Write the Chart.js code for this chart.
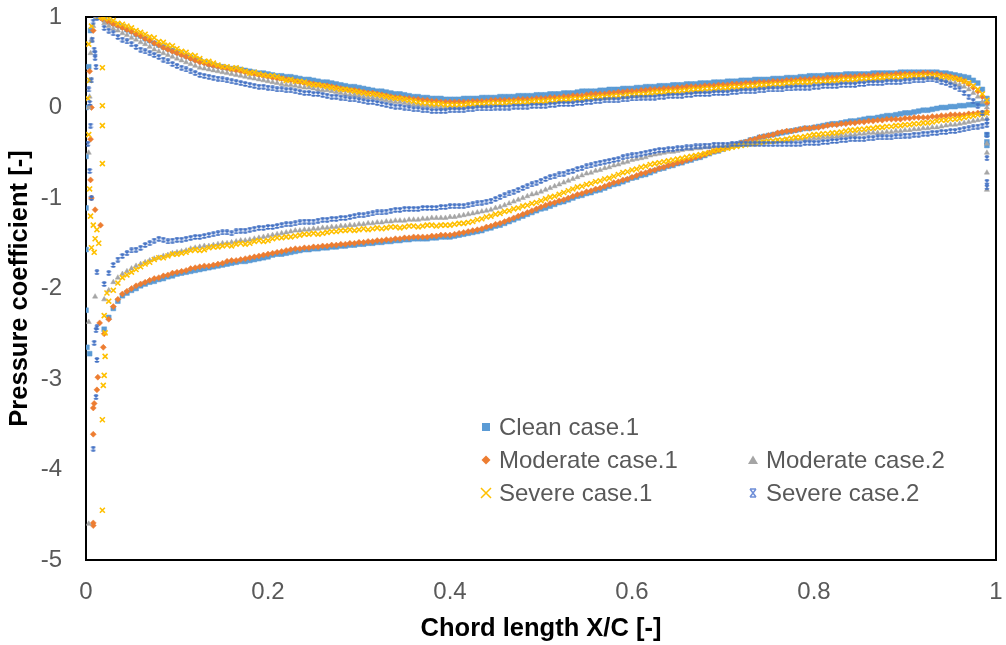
<!DOCTYPE html>
<html>
<head>
<meta charset="utf-8">
<script src="https://cdn.jsdelivr.net/npm/chart.js@4.4.0/dist/chart.umd.min.js"></script>
<style>
  html, body { margin: 0; padding: 0; background: #fff; }
  #wrap { width: 1006px; height: 645px; }
</style>
</head>
<body>
<div id="wrap"><canvas id="cpChart" width="1006" height="645"></canvas></div>
<script>
// Chordwise stations shared by both surfaces (x/c)
const xGrid = [
  0.02, 0.025, 0.03, 0.035, 0.04, 0.045, 0.05, 0.055, 0.06, 0.065,
  0.07, 0.075, 0.08, 0.085, 0.09, 0.095, 0.10, 0.105, 0.11, 0.115,
  0.12, 0.125, 0.13, 0.135, 0.14, 0.145, 0.15, 0.155, 0.16, 0.165,
  0.17, 0.175, 0.18, 0.185, 0.19, 0.195, 0.20, 0.205, 0.21, 0.215,
  0.22, 0.225, 0.23, 0.235, 0.24, 0.245, 0.25, 0.255, 0.26, 0.265,
  0.27, 0.275, 0.28, 0.285, 0.29, 0.295, 0.30, 0.305, 0.31, 0.315,
  0.32, 0.325, 0.33, 0.335, 0.34, 0.345, 0.35, 0.355, 0.36, 0.365,
  0.37, 0.375, 0.38, 0.385, 0.39, 0.395, 0.40, 0.405, 0.41, 0.415,
  0.42, 0.425, 0.43, 0.435, 0.44, 0.445, 0.45, 0.455, 0.46, 0.465,
  0.47, 0.475, 0.48, 0.485, 0.49, 0.495, 0.50, 0.505, 0.51, 0.515,
  0.52, 0.525, 0.53, 0.535, 0.54, 0.545, 0.55, 0.555, 0.56, 0.565,
  0.57, 0.575, 0.58, 0.585, 0.59, 0.595, 0.60, 0.605, 0.61, 0.615,
  0.62, 0.625, 0.63, 0.635, 0.64, 0.645, 0.65, 0.655, 0.66, 0.665,
  0.67, 0.675, 0.68, 0.685, 0.69, 0.695, 0.70, 0.705, 0.71, 0.715,
  0.72, 0.725, 0.73, 0.735, 0.74, 0.745, 0.75, 0.755, 0.76, 0.765,
  0.77, 0.775, 0.78, 0.785, 0.79, 0.795, 0.80, 0.805, 0.81, 0.815,
  0.82, 0.825, 0.83, 0.835, 0.84, 0.845, 0.85, 0.855, 0.86, 0.865,
  0.87, 0.875, 0.88, 0.885, 0.89, 0.895, 0.90, 0.905, 0.91, 0.915,
  0.92, 0.925, 0.93, 0.935, 0.94, 0.945, 0.95, 0.955, 0.96, 0.965,
  0.97, 0.975, 0.98, 0.985, 0.99
];

const xTicks = [0, 0.2, 0.4, 0.6, 0.8, 1];
const yTicks = [-5, -4, -3, -2, -1, 0, 1];

// Clean case.1
const cleanUpper = [
  0.97, 0.95, 0.93, 0.91, 0.89, 0.86, 0.84, 0.81, 0.79, 0.76,
  0.74, 0.71, 0.69, 0.67, 0.65, 0.63, 0.61, 0.59, 0.57, 0.55,
  0.53, 0.52, 0.50, 0.48, 0.47, 0.46, 0.45, 0.44, 0.43, 0.43,
  0.42, 0.41, 0.40, 0.39, 0.38, 0.38, 0.37, 0.36, 0.35, 0.35,
  0.34, 0.34, 0.33, 0.32, 0.31, 0.31, 0.30, 0.29, 0.28, 0.28,
  0.27, 0.26, 0.25, 0.24, 0.23, 0.23, 0.22, 0.21, 0.20, 0.19,
  0.18, 0.18, 0.17, 0.16, 0.15, 0.15, 0.14, 0.13, 0.12, 0.12,
  0.11, 0.11, 0.10, 0.10, 0.10, 0.09, 0.09, 0.09, 0.09, 0.10,
  0.10, 0.10, 0.10, 0.11, 0.11, 0.11, 0.11, 0.12, 0.12, 0.12,
  0.12, 0.13, 0.13, 0.13, 0.13, 0.14, 0.14, 0.14, 0.15, 0.15,
  0.15, 0.16, 0.16, 0.16, 0.17, 0.18, 0.18, 0.18, 0.18, 0.19,
  0.19, 0.20, 0.20, 0.20, 0.21, 0.21, 0.21, 0.22, 0.22, 0.23,
  0.23, 0.23, 0.24, 0.24, 0.24, 0.25, 0.25, 0.25, 0.26, 0.26,
  0.26, 0.27, 0.27, 0.27, 0.28, 0.28, 0.28, 0.29, 0.29, 0.29,
  0.30, 0.30, 0.30, 0.31, 0.31, 0.31, 0.31, 0.32, 0.32, 0.32,
  0.33, 0.33, 0.33, 0.34, 0.34, 0.35, 0.35, 0.35, 0.35, 0.36,
  0.36, 0.36, 0.36, 0.37, 0.37, 0.37, 0.37, 0.37, 0.37, 0.38,
  0.38, 0.38, 0.38, 0.38, 0.38, 0.39, 0.39, 0.39, 0.39, 0.39,
  0.39, 0.39, 0.39, 0.39, 0.38, 0.38, 0.37, 0.36, 0.35, 0.34,
  0.33, 0.30, 0.27, 0.20, 0.10
];
const cleanLower = [
  -2.45, -2.32, -2.22, -2.14, -2.08, -2.05, -2.02, -2.00, -1.97, -1.95,
  -1.93, -1.92, -1.90, -1.89, -1.87, -1.86, -1.84, -1.83, -1.82, -1.81,
  -1.80, -1.79, -1.78, -1.77, -1.76, -1.75, -1.74, -1.73, -1.72, -1.71,
  -1.70, -1.70, -1.69, -1.68, -1.67, -1.66, -1.65, -1.63, -1.62, -1.62,
  -1.61, -1.60, -1.59, -1.58, -1.57, -1.57, -1.56, -1.56, -1.55, -1.55,
  -1.54, -1.54, -1.53, -1.53, -1.52, -1.52, -1.51, -1.51, -1.50, -1.50,
  -1.49, -1.49, -1.48, -1.48, -1.47, -1.47, -1.46, -1.46, -1.45, -1.45,
  -1.45, -1.45, -1.44, -1.44, -1.43, -1.43, -1.43, -1.42, -1.41, -1.40,
  -1.39, -1.38, -1.37, -1.36, -1.34, -1.33, -1.31, -1.30, -1.28, -1.26,
  -1.24, -1.22, -1.20, -1.18, -1.16, -1.14, -1.12, -1.11, -1.09, -1.07,
  -1.05, -1.04, -1.02, -1.00, -0.98, -0.97, -0.95, -0.94, -0.92, -0.91,
  -0.89, -0.87, -0.85, -0.84, -0.82, -0.80, -0.78, -0.77, -0.75, -0.74,
  -0.72, -0.70, -0.68, -0.67, -0.65, -0.64, -0.62, -0.61, -0.59, -0.58,
  -0.56, -0.55, -0.53, -0.51, -0.49, -0.48, -0.46, -0.44, -0.42, -0.41,
  -0.39, -0.38, -0.36, -0.35, -0.33, -0.32, -0.31, -0.30, -0.29, -0.28,
  -0.27, -0.26, -0.25, -0.24, -0.23, -0.23, -0.22, -0.21, -0.20, -0.19,
  -0.18, -0.18, -0.17, -0.16, -0.15, -0.15, -0.14, -0.13, -0.12, -0.12,
  -0.11, -0.10, -0.09, -0.09, -0.08, -0.07, -0.06, -0.06, -0.05, -0.04,
  -0.03, -0.03, -0.02, -0.01, 0.00, 0.00, 0.01, 0.01, 0.02, 0.02,
  0.03, 0.03, 0.04, 0.04, 0.05
];
const cleanEdge = [
  [0.0, 0.0], [0.0, -0.54], [0.0, -1.11], [0.0, -1.57], [0.0, -2.24],
  [0.001, -2.65], [0.004, -2.72], [0.003, 0.45], [0.005, 0.85], [0.011, 1.0],
  [0.99, -0.30], [0.99, -0.38], [0.99, -0.42]
];

// Moderate case.1
const mod1Upper = [
  0.96, 0.94, 0.92, 0.90, 0.88, 0.86, 0.84, 0.81, 0.79, 0.76,
  0.74, 0.71, 0.69, 0.66, 0.64, 0.62, 0.60, 0.58, 0.56, 0.54,
  0.52, 0.50, 0.49, 0.47, 0.46, 0.45, 0.44, 0.43, 0.42, 0.41,
  0.40, 0.39, 0.38, 0.37, 0.36, 0.35, 0.34, 0.33, 0.32, 0.32,
  0.31, 0.30, 0.29, 0.28, 0.27, 0.27, 0.26, 0.25, 0.24, 0.24,
  0.23, 0.22, 0.21, 0.20, 0.19, 0.19, 0.18, 0.17, 0.16, 0.16,
  0.15, 0.14, 0.13, 0.12, 0.11, 0.11, 0.10, 0.10, 0.09, 0.09,
  0.08, 0.08, 0.07, 0.07, 0.06, 0.06, 0.06, 0.06, 0.06, 0.06,
  0.06, 0.07, 0.07, 0.07, 0.07, 0.08, 0.08, 0.08, 0.08, 0.08,
  0.08, 0.09, 0.09, 0.09, 0.09, 0.10, 0.10, 0.10, 0.11, 0.11,
  0.11, 0.12, 0.12, 0.13, 0.13, 0.13, 0.14, 0.15, 0.15, 0.15,
  0.15, 0.16, 0.16, 0.17, 0.17, 0.18, 0.18, 0.18, 0.19, 0.19,
  0.20, 0.20, 0.20, 0.21, 0.21, 0.21, 0.22, 0.22, 0.23, 0.23,
  0.23, 0.23, 0.24, 0.24, 0.24, 0.25, 0.25, 0.25, 0.26, 0.26,
  0.26, 0.27, 0.27, 0.27, 0.28, 0.28, 0.28, 0.29, 0.29, 0.29,
  0.30, 0.30, 0.30, 0.31, 0.31, 0.31, 0.32, 0.32, 0.32, 0.33,
  0.33, 0.33, 0.34, 0.34, 0.34, 0.34, 0.35, 0.35, 0.35, 0.35,
  0.36, 0.36, 0.36, 0.36, 0.37, 0.37, 0.37, 0.37, 0.37, 0.37,
  0.38, 0.38, 0.37, 0.37, 0.36, 0.35, 0.34, 0.33, 0.31, 0.29,
  0.26, 0.22, 0.18, 0.12, 0.05
];
const mod1Lower = [
  -2.50, -2.34, -2.20, -2.12, -2.06, -2.03, -2.00, -1.97, -1.95, -1.93,
  -1.91, -1.89, -1.88, -1.86, -1.85, -1.83, -1.82, -1.81, -1.80, -1.78,
  -1.77, -1.76, -1.75, -1.75, -1.74, -1.73, -1.72, -1.70, -1.69, -1.69,
  -1.68, -1.67, -1.66, -1.65, -1.64, -1.63, -1.62, -1.61, -1.60, -1.59,
  -1.58, -1.57, -1.56, -1.56, -1.55, -1.55, -1.54, -1.54, -1.53, -1.53,
  -1.52, -1.52, -1.51, -1.51, -1.50, -1.50, -1.49, -1.49, -1.48, -1.48,
  -1.47, -1.47, -1.46, -1.46, -1.45, -1.45, -1.44, -1.44, -1.43, -1.43,
  -1.43, -1.43, -1.42, -1.42, -1.41, -1.41, -1.41, -1.40, -1.39, -1.38,
  -1.37, -1.36, -1.35, -1.34, -1.32, -1.31, -1.29, -1.28, -1.26, -1.24,
  -1.22, -1.20, -1.18, -1.16, -1.14, -1.12, -1.10, -1.08, -1.06, -1.05,
  -1.03, -1.02, -1.00, -0.98, -0.96, -0.95, -0.93, -0.92, -0.90, -0.89,
  -0.87, -0.85, -0.83, -0.82, -0.80, -0.79, -0.77, -0.75, -0.73, -0.72,
  -0.70, -0.69, -0.67, -0.66, -0.64, -0.63, -0.61, -0.60, -0.58, -0.57,
  -0.55, -0.54, -0.52, -0.50, -0.48, -0.47, -0.45, -0.44, -0.42, -0.41,
  -0.39, -0.38, -0.36, -0.35, -0.33, -0.32, -0.31, -0.30, -0.28, -0.27,
  -0.26, -0.26, -0.25, -0.24, -0.23, -0.23, -0.22, -0.22, -0.21, -0.20,
  -0.19, -0.19, -0.18, -0.18, -0.17, -0.17, -0.16, -0.16, -0.15, -0.15,
  -0.14, -0.14, -0.13, -0.13, -0.13, -0.13, -0.12, -0.12, -0.11, -0.11,
  -0.11, -0.11, -0.10, -0.10, -0.09, -0.09, -0.08, -0.08, -0.08, -0.08,
  -0.07, -0.07, -0.06, -0.06, -0.05
];
const mod1Edge = [
  [0.008, 0.85], [0.012, 1.0], [0.016, 0.99], [0.004, 0.4], [0.006, 0.0],
  [0.005, -0.35], [0.005, -0.8], [0.006, -1.0], [0.010, -1.13], [0.016, -1.3],
  [0.015, -2.38], [0.019, -2.65], [0.013, -2.98], [0.012, -3.12], [0.009, -3.27],
  [0.008, -3.32], [0.008, -3.61], [0.008, -4.59], [0.008, -4.62]
];

// Moderate case.2
const mod2Upper = [
  0.93, 0.90, 0.87, 0.85, 0.82, 0.80, 0.77, 0.75, 0.72, 0.70,
  0.67, 0.64, 0.62, 0.60, 0.58, 0.56, 0.54, 0.52, 0.50, 0.48,
  0.46, 0.44, 0.43, 0.42, 0.41, 0.40, 0.39, 0.38, 0.37, 0.36,
  0.35, 0.34, 0.33, 0.32, 0.31, 0.30, 0.29, 0.28, 0.27, 0.26,
  0.25, 0.25, 0.24, 0.23, 0.22, 0.22, 0.21, 0.20, 0.19, 0.19,
  0.18, 0.17, 0.16, 0.15, 0.14, 0.14, 0.13, 0.12, 0.11, 0.11,
  0.10, 0.09, 0.08, 0.07, 0.06, 0.06, 0.05, 0.04, 0.03, 0.03,
  0.02, 0.02, 0.01, 0.01, 0.00, 0.00, 0.00, 0.00, 0.00, 0.00,
  0.01, 0.01, 0.02, 0.02, 0.02, 0.03, 0.03, 0.03, 0.03, 0.04,
  0.04, 0.04, 0.04, 0.05, 0.05, 0.05, 0.05, 0.06, 0.06, 0.06,
  0.07, 0.07, 0.07, 0.08, 0.08, 0.08, 0.09, 0.10, 0.10, 0.10,
  0.10, 0.11, 0.11, 0.11, 0.12, 0.12, 0.13, 0.13, 0.13, 0.13,
  0.14, 0.14, 0.15, 0.15, 0.15, 0.16, 0.16, 0.16, 0.17, 0.17,
  0.17, 0.18, 0.18, 0.18, 0.19, 0.19, 0.20, 0.20, 0.20, 0.20,
  0.21, 0.21, 0.22, 0.22, 0.22, 0.23, 0.23, 0.23, 0.24, 0.24,
  0.24, 0.25, 0.25, 0.25, 0.26, 0.26, 0.27, 0.27, 0.27, 0.27,
  0.28, 0.28, 0.28, 0.29, 0.29, 0.29, 0.30, 0.30, 0.30, 0.30,
  0.31, 0.31, 0.31, 0.32, 0.32, 0.32, 0.33, 0.33, 0.33, 0.33,
  0.33, 0.33, 0.33, 0.32, 0.31, 0.30, 0.28, 0.27, 0.25, 0.23,
  0.20, 0.16, 0.12, 0.06, 0.00
];
const mod2Lower = [
  -2.12, -2.02, -1.93, -1.88, -1.84, -1.81, -1.78, -1.75, -1.73, -1.71,
  -1.69, -1.67, -1.66, -1.64, -1.63, -1.61, -1.60, -1.59, -1.58, -1.56,
  -1.55, -1.54, -1.53, -1.53, -1.52, -1.51, -1.50, -1.50, -1.49, -1.48,
  -1.47, -1.47, -1.46, -1.45, -1.44, -1.43, -1.42, -1.41, -1.40, -1.39,
  -1.38, -1.37, -1.36, -1.36, -1.35, -1.35, -1.34, -1.34, -1.33, -1.33,
  -1.32, -1.32, -1.31, -1.31, -1.30, -1.30, -1.29, -1.29, -1.28, -1.28,
  -1.27, -1.27, -1.26, -1.26, -1.25, -1.25, -1.25, -1.24, -1.24, -1.24,
  -1.23, -1.23, -1.22, -1.22, -1.22, -1.22, -1.21, -1.21, -1.20, -1.19,
  -1.18, -1.17, -1.16, -1.15, -1.14, -1.13, -1.11, -1.10, -1.08, -1.06,
  -1.04, -1.02, -1.00, -0.98, -0.96, -0.95, -0.93, -0.91, -0.89, -0.87,
  -0.85, -0.83, -0.81, -0.79, -0.77, -0.75, -0.73, -0.72, -0.70, -0.69,
  -0.67, -0.66, -0.64, -0.63, -0.61, -0.60, -0.58, -0.57, -0.56, -0.55,
  -0.53, -0.52, -0.51, -0.50, -0.49, -0.49, -0.48, -0.47, -0.46, -0.46,
  -0.45, -0.45, -0.44, -0.44, -0.43, -0.43, -0.42, -0.42, -0.41, -0.41,
  -0.40, -0.40, -0.39, -0.39, -0.38, -0.38, -0.38, -0.38, -0.37, -0.37,
  -0.36, -0.36, -0.35, -0.35, -0.35, -0.35, -0.34, -0.34, -0.33, -0.33,
  -0.32, -0.32, -0.31, -0.31, -0.30, -0.30, -0.29, -0.29, -0.28, -0.28,
  -0.28, -0.28, -0.27, -0.27, -0.26, -0.26, -0.25, -0.25, -0.24, -0.24,
  -0.23, -0.23, -0.22, -0.22, -0.21, -0.20, -0.19, -0.19, -0.18, -0.17,
  -0.16, -0.15, -0.14, -0.13, -0.12
];
const mod2Edge = [
  [0.008, 0.9], [0.012, 1.0], [0.006, 0.75], [0.005, 0.6], [0.004, 0.3],
  [0.004, 0.12], [0.003, 0.0], [0.003, -0.5], [0.010, -2.09], [0.003, -2.37],
  [0.003, -4.6], [0.99, -0.40], [0.99, -0.50], [0.99, -0.72], [0.99, -0.91]
];

// Severe case.1
const sev1Upper = [
  0.99, 0.98, 0.96, 0.93, 0.92, 0.90, 0.88, 0.85, 0.83, 0.81,
  0.78, 0.77, 0.73, 0.72, 0.69, 0.68, 0.65, 0.62, 0.61, 0.58,
  0.57, 0.54, 0.51, 0.51, 0.49, 0.47, 0.45, 0.45, 0.43, 0.44,
  0.42, 0.40, 0.38, 0.39, 0.37, 0.36, 0.35, 0.35, 0.34, 0.32,
  0.30, 0.31, 0.29, 0.29, 0.28, 0.26, 0.25, 0.25, 0.24, 0.23,
  0.22, 0.21, 0.20, 0.20, 0.19, 0.18, 0.17, 0.16, 0.15, 0.15,
  0.14, 0.13, 0.12, 0.11, 0.10, 0.10, 0.09, 0.08, 0.07, 0.06,
  0.05, 0.05, 0.04, 0.04, 0.04, 0.03, 0.03, 0.03, 0.03, 0.03,
  0.04, 0.04, 0.04, 0.04, 0.05, 0.05, 0.05, 0.05, 0.05, 0.06,
  0.06, 0.06, 0.06, 0.06, 0.07, 0.07, 0.07, 0.07, 0.08, 0.08,
  0.09, 0.09, 0.09, 0.10, 0.10, 0.10, 0.11, 0.11, 0.11, 0.12,
  0.12, 0.12, 0.13, 0.13, 0.13, 0.14, 0.14, 0.15, 0.15, 0.15,
  0.16, 0.17, 0.17, 0.17, 0.18, 0.18, 0.18, 0.19, 0.19, 0.20,
  0.20, 0.20, 0.21, 0.21, 0.21, 0.22, 0.22, 0.22, 0.23, 0.23,
  0.23, 0.24, 0.24, 0.24, 0.25, 0.25, 0.25, 0.26, 0.26, 0.26,
  0.27, 0.27, 0.28, 0.28, 0.28, 0.28, 0.29, 0.29, 0.29, 0.29,
  0.30, 0.30, 0.31, 0.31, 0.31, 0.31, 0.32, 0.32, 0.32, 0.32,
  0.33, 0.33, 0.34, 0.34, 0.34, 0.34, 0.35, 0.35, 0.35, 0.35,
  0.35, 0.35, 0.35, 0.35, 0.34, 0.34, 0.33, 0.32, 0.31, 0.29,
  0.27, 0.24, 0.20, 0.15, 0.08
];
const sev1Lower = [
  -2.30, -2.14, -2.02, -1.94, -1.88, -1.85, -1.82, -1.79, -1.76, -1.73,
  -1.71, -1.68, -1.66, -1.66, -1.64, -1.62, -1.62, -1.61, -1.60, -1.58,
  -1.57, -1.58, -1.57, -1.55, -1.54, -1.54, -1.53, -1.52, -1.53, -1.51,
  -1.50, -1.51, -1.50, -1.48, -1.47, -1.48, -1.47, -1.45, -1.44, -1.44,
  -1.43, -1.43, -1.42, -1.41, -1.40, -1.40, -1.39, -1.40, -1.39, -1.38,
  -1.37, -1.37, -1.36, -1.36, -1.35, -1.36, -1.35, -1.34, -1.35, -1.34,
  -1.33, -1.34, -1.33, -1.32, -1.32, -1.33, -1.32, -1.31, -1.31, -1.32,
  -1.31, -1.30, -1.30, -1.31, -1.30, -1.30, -1.30, -1.29, -1.28, -1.28,
  -1.27, -1.26, -1.24, -1.23, -1.21, -1.20, -1.18, -1.17, -1.15, -1.14,
  -1.12, -1.11, -1.09, -1.08, -1.06, -1.05, -1.03, -1.01, -0.99, -0.98,
  -0.96, -0.94, -0.92, -0.90, -0.88, -0.87, -0.85, -0.84, -0.82, -0.81,
  -0.79, -0.78, -0.76, -0.74, -0.72, -0.71, -0.69, -0.68, -0.66, -0.65,
  -0.63, -0.62, -0.61, -0.60, -0.59, -0.58, -0.57, -0.56, -0.55, -0.54,
  -0.53, -0.52, -0.51, -0.50, -0.48, -0.47, -0.46, -0.45, -0.44, -0.43,
  -0.42, -0.41, -0.40, -0.40, -0.39, -0.38, -0.37, -0.37, -0.36, -0.36,
  -0.35, -0.34, -0.33, -0.33, -0.32, -0.31, -0.30, -0.30, -0.29, -0.29,
  -0.28, -0.28, -0.27, -0.26, -0.25, -0.25, -0.24, -0.24, -0.23, -0.23,
  -0.22, -0.22, -0.21, -0.21, -0.20, -0.20, -0.19, -0.19, -0.18, -0.18,
  -0.17, -0.17, -0.16, -0.15, -0.14, -0.14, -0.13, -0.13, -0.12, -0.11,
  -0.10, -0.09, -0.08, -0.07, -0.06
];
const sev1Edge = [
  [0.013, 1.0], [0.018, 1.0], [0.006, 0.9], [0.003, 0.7], [0.004, 0.3],
  [0.002, 0.1], [0.018, 0.44], [0.018, 0.02], [0.018, -0.2], [0.003, -0.3],
  [0.018, -0.62], [0.004, -0.9], [0.005, -1.2], [0.012, -1.35], [0.008, -1.3],
  [0.010, -1.45], [0.014, -1.5], [0.006, -1.55], [0.009, -1.6], [0.023, -2.05],
  [0.021, -2.49], [0.021, -2.75], [0.020, -2.96], [0.019, -3.07], [0.018, -3.45],
  [0.018, -4.45]
];

// Severe case.2
const sev2Upper = [
  0.88, 0.85, 0.82, 0.78, 0.75, 0.73, 0.70, 0.67, 0.64, 0.62,
  0.60, 0.58, 0.56, 0.53, 0.51, 0.48, 0.46, 0.44, 0.42, 0.40,
  0.38, 0.36, 0.35, 0.34, 0.33, 0.32, 0.31, 0.30, 0.29, 0.28,
  0.27, 0.26, 0.25, 0.24, 0.23, 0.23, 0.22, 0.21, 0.20, 0.20,
  0.19, 0.19, 0.18, 0.17, 0.16, 0.16, 0.15, 0.15, 0.14, 0.13,
  0.12, 0.12, 0.11, 0.10, 0.09, 0.09, 0.08, 0.07, 0.06, 0.06,
  0.05, 0.04, 0.03, 0.02, 0.01, 0.01, 0.00, -0.01, -0.02, -0.02,
  -0.03, -0.03, -0.04, -0.04, -0.04, -0.04, -0.03, -0.03, -0.03, -0.03,
  -0.02, -0.02, -0.01, -0.01, -0.01, -0.01, 0.00, 0.00, 0.00, 0.00,
  0.01, 0.01, 0.01, 0.01, 0.02, 0.02, 0.02, 0.02, 0.03, 0.03,
  0.04, 0.04, 0.04, 0.04, 0.05, 0.05, 0.06, 0.06, 0.07, 0.07,
  0.08, 0.08, 0.08, 0.08, 0.09, 0.09, 0.10, 0.10, 0.11, 0.11,
  0.11, 0.11, 0.12, 0.12, 0.13, 0.13, 0.13, 0.13, 0.14, 0.14,
  0.15, 0.15, 0.15, 0.15, 0.16, 0.16, 0.16, 0.16, 0.17, 0.17,
  0.18, 0.18, 0.18, 0.18, 0.19, 0.19, 0.20, 0.20, 0.20, 0.20,
  0.21, 0.21, 0.22, 0.22, 0.22, 0.22, 0.23, 0.23, 0.24, 0.24,
  0.24, 0.24, 0.25, 0.25, 0.25, 0.25, 0.26, 0.26, 0.27, 0.27,
  0.27, 0.27, 0.28, 0.28, 0.28, 0.28, 0.29, 0.29, 0.30, 0.30,
  0.30, 0.31, 0.31, 0.30, 0.28, 0.27, 0.25, 0.23, 0.20, 0.16,
  0.12, 0.07, 0.02, -0.06, -0.15
];
const sev2Lower = [
  -1.95, -1.83, -1.74, -1.68, -1.64, -1.61, -1.58, -1.57, -1.55, -1.52,
  -1.50, -1.47, -1.45, -1.46, -1.48, -1.47, -1.46, -1.46, -1.45, -1.44,
  -1.43, -1.43, -1.42, -1.41, -1.40, -1.39, -1.38, -1.38, -1.39, -1.37,
  -1.36, -1.36, -1.35, -1.34, -1.33, -1.33, -1.32, -1.32, -1.31, -1.30,
  -1.29, -1.29, -1.28, -1.27, -1.26, -1.26, -1.26, -1.25, -1.24, -1.24,
  -1.23, -1.23, -1.22, -1.22, -1.21, -1.20, -1.19, -1.19, -1.18, -1.17,
  -1.16, -1.16, -1.15, -1.14, -1.13, -1.13, -1.12, -1.12, -1.12, -1.12,
  -1.11, -1.11, -1.11, -1.11, -1.10, -1.10, -1.09, -1.09, -1.09, -1.09,
  -1.08, -1.07, -1.06, -1.05, -1.04, -1.03, -1.01, -0.99, -0.97, -0.95,
  -0.93, -0.91, -0.89, -0.87, -0.85, -0.83, -0.81, -0.79, -0.77, -0.76,
  -0.74, -0.73, -0.71, -0.70, -0.68, -0.67, -0.65, -0.64, -0.62, -0.61,
  -0.60, -0.59, -0.58, -0.57, -0.55, -0.54, -0.53, -0.52, -0.51, -0.50,
  -0.49, -0.48, -0.47, -0.47, -0.46, -0.46, -0.45, -0.45, -0.44, -0.44,
  -0.43, -0.43, -0.42, -0.42, -0.41, -0.41, -0.41, -0.41, -0.40, -0.40,
  -0.40, -0.40, -0.40, -0.40, -0.40, -0.40, -0.40, -0.40, -0.40, -0.40,
  -0.40, -0.40, -0.40, -0.40, -0.39, -0.39, -0.39, -0.39, -0.38, -0.38,
  -0.37, -0.37, -0.36, -0.36, -0.35, -0.35, -0.35, -0.35, -0.34, -0.34,
  -0.33, -0.33, -0.33, -0.33, -0.32, -0.32, -0.31, -0.31, -0.30, -0.30,
  -0.29, -0.29, -0.28, -0.28, -0.27, -0.27, -0.26, -0.26, -0.25, -0.24,
  -0.23, -0.22, -0.21, -0.20, -0.19
];
const sev2Edge = [
  [0.008, 0.95], [0.012, 0.99], [0.007, 0.75], [0.009, 0.64], [0.010, 0.6],
  [0.010, 0.55], [0.011, 0.45], [0.006, 0.3], [0.003, 0.2], [0.004, 0.05],
  [0.005, -0.2], [0.002, -0.4], [0.004, -0.7], [0.006, -1.0], [0.012, -1.82],
  [0.012, -2.43], [0.011, -2.46], [0.009, -2.6], [0.012, -2.79], [0.011, -3.2],
  [0.008, -3.77],
  [0.99, -0.30], [0.99, -0.56], [0.99, -0.82], [0.99, -0.88]
];

const FONT = '"Liberation Sans", Arial, sans-serif';

// Excel-style "star" marker: an X closed by short bars top and bottom
function starMarker(size, color, width) {
  const c = document.createElement('canvas');
  c.width = size;
  c.height = size;
  const g = c.getContext('2d');
  g.strokeStyle = color;
  g.lineWidth = width;
  const a = 1, b = size - 1;
  g.beginPath();
  g.moveTo(a, a); g.lineTo(b, b);
  g.moveTo(b, a); g.lineTo(a, b);
  g.moveTo(a + 0.5, a); g.lineTo(b - 0.5, a);
  g.moveTo(a + 0.5, b); g.lineTo(b - 0.5, b);
  g.stroke();
  return c;
}

const series = [
  { label: 'Clean case.1', upper: cleanUpper, lower: cleanLower, edge: cleanEdge,
    color: '#5B9BD5', pointStyle: 'rect', radius: 3.4, border: 0.5 },
  { label: 'Moderate case.1', upper: mod1Upper, lower: mod1Lower, edge: mod1Edge,
    color: '#ED7D31', pointStyle: 'rectRot', radius: 3, border: 0.5 },
  { label: 'Moderate case.2', upper: mod2Upper, lower: mod2Lower, edge: mod2Edge,
    color: '#A5A5A5', pointStyle: 'triangle', radius: 3, border: 0.5 },
  { label: 'Severe case.1', upper: sev1Upper, lower: sev1Lower, edge: sev1Edge,
    color: '#FFC000', pointStyle: 'crossRot', radius: 3.5, border: 1.6 },
  { label: 'Severe case.2', upper: sev2Upper, lower: sev2Lower, edge: sev2Edge,
    color: '#4472C4', pointStyle: starMarker(6, '#4472C4', 1.5), radius: 3, border: 1 }
];

const toPoints = ys => ys.map((y, i) => ({ x: xGrid[i], y }));

const datasets = series.map((s, i) => ({
  label: s.label,
  data: [
    ...s.edge.map(([x, y]) => ({ x, y })),
    ...toPoints(s.upper),
    ...toPoints(s.lower)
  ],
  pointStyle: s.pointStyle,
  pointRadius: s.radius,
  pointBorderWidth: s.border,
  pointBackgroundColor: s.color,
  pointBorderColor: s.color,
  showLine: false,
  // later cases sit on top, as in the spreadsheet original
  order: series.length - i
}));

// Plot frame drawn under the markers
const plotFrame = {
  id: 'plotFrame',
  beforeDatasetsDraw(chart) {
    const { ctx, chartArea: a } = chart;
    ctx.save();
    ctx.strokeStyle = '#000';
    ctx.lineWidth = 2;
    ctx.strokeRect(a.left, a.top, a.right - a.left, a.bottom - a.top);
    ctx.restore();
  }
};

// Two-column legend inside the plot
const legendSlots = [
  { col: 0, row: 0 }, { col: 0, row: 1 }, { col: 1, row: 1 },
  { col: 0, row: 2 }, { col: 1, row: 2 }
];

function drawLegendMarker(ctx, idx, x, y, color) {
  ctx.save();
  ctx.fillStyle = color;
  ctx.strokeStyle = color;
  ctx.beginPath();
  if (idx === 0) {
    ctx.fillRect(x - 4, y - 4, 8, 8);
  } else if (idx === 1) {
    ctx.moveTo(x, y - 4.5); ctx.lineTo(x + 4.5, y); ctx.lineTo(x, y + 4.5); ctx.lineTo(x - 4.5, y);
    ctx.closePath(); ctx.fill();
  } else if (idx === 2) {
    ctx.moveTo(x, y - 4.5); ctx.lineTo(x + 5, y + 4); ctx.lineTo(x - 5, y + 4);
    ctx.closePath(); ctx.fill();
  } else if (idx === 3) {
    ctx.lineWidth = 1.5;
    ctx.moveTo(x - 5, y - 5); ctx.lineTo(x + 5, y + 5);
    ctx.moveTo(x + 5, y - 5); ctx.lineTo(x - 5, y + 5);
    ctx.stroke();
  } else {
    ctx.strokeStyle = '#6F8FD8';
    ctx.lineWidth = 1.5;
    ctx.moveTo(x - 3, y - 4); ctx.lineTo(x + 3, y + 4);
    ctx.moveTo(x + 3, y - 4); ctx.lineTo(x - 3, y + 4);
    ctx.moveTo(x - 3, y - 4); ctx.lineTo(x + 3, y - 4);
    ctx.moveTo(x - 3, y + 4); ctx.lineTo(x + 3, y + 4);
    ctx.stroke();
  }
  ctx.restore();
}

const caseLegend = {
  id: 'caseLegend',
  afterDraw(chart) {
    const { ctx, chartArea: a } = chart;
    ctx.save();
    ctx.font = '24px ' + FONT;
    ctx.fillStyle = '#595959';
    ctx.textBaseline = 'middle';
    ctx.textAlign = 'left';
    series.forEach((s, i) => {
      const slot = legendSlots[i];
      const mx = a.left + 400 + slot.col * 267;
      const my = a.top + 410 + slot.row * 33;
      drawLegendMarker(ctx, i, mx, my, s.color);
      ctx.fillStyle = '#595959';
      ctx.fillText(s.label, mx + 13, my + 1);
    });
    ctx.restore();
  }
};

// keep the plot box fixed: no extra room for overhanging edge labels
function fitX(scale) {
  scale.height = 85;
  scale.paddingLeft = 0;
  scale.paddingRight = 0;
}
function fitY(scale) {
  scale.width = 86;
  scale.paddingTop = 0;
  scale.paddingBottom = 0;
}

new Chart(document.getElementById('cpChart'), {
  type: 'scatter',
  data: { datasets },
  options: {
    responsive: false,
    animation: false,
    events: [],
    layout: { padding: { top: 17, right: 10, left: 0, bottom: 0 } },
    plugins: {
      legend: { display: false },
      tooltip: { enabled: false }
    },
    scales: {
      x: {
        type: 'linear',
        min: 0,
        max: 1,
        afterFit: fitX,
        afterBuildTicks: scale => { scale.ticks = xTicks.map(v => ({ value: v })); },
        grid: { display: false, drawTicks: false },
        border: { display: false },
        ticks: {
          padding: 18,
          color: '#595959',
          font: { family: FONT, size: 24 },
          callback: v => String(v)
        },
        title: {
          display: true,
          text: 'Chord length X/C [-]',
          color: '#000',
          font: { family: FONT, size: 25.5, weight: 'bold' },
          padding: { top: 0, bottom: 1 }
        }
      },
      y: {
        type: 'linear',
        min: -5,
        max: 1,
        afterFit: fitY,
        afterBuildTicks: scale => { scale.ticks = yTicks.map(v => ({ value: v })); },
        grid: { display: false, drawTicks: false },
        border: { display: false },
        ticks: {
          padding: 24,
          color: '#595959',
          font: { family: FONT, size: 24 },
          callback: v => String(v)
        },
        title: {
          display: true,
          text: 'Pressure coefficient [-]',
          color: '#000',
          font: { family: FONT, size: 25.5, weight: 'bold' },
          padding: { top: 5, bottom: 0 }
        }
      }
    }
  },
  plugins: [plotFrame, caseLegend]
});
</script>
</body>
</html>
